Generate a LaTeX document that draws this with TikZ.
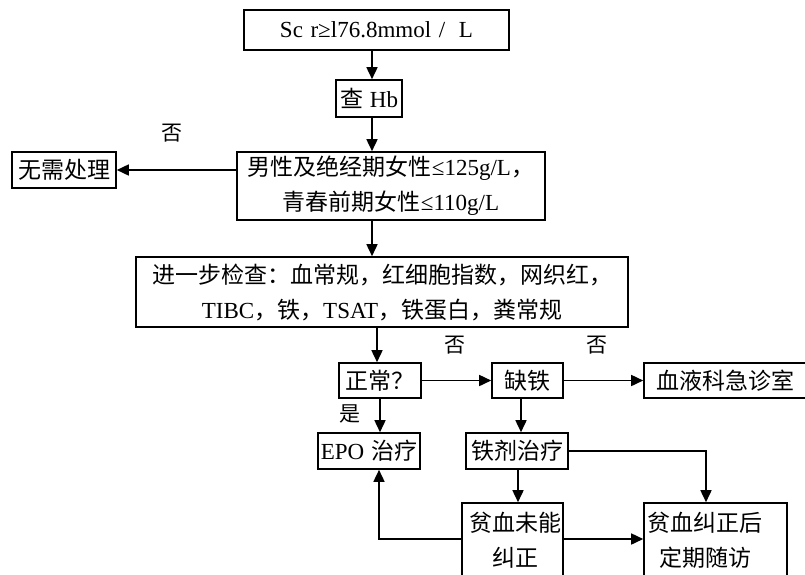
\documentclass[tikz,border=0pt]{standalone}
\usepackage{fontspec}
\setmainfont{Liberation Serif}
\newfontfamily\cjk{Noto Sans CJK SC}
\usetikzlibrary{arrows.meta}
\newcommand{\wsp}{\hspace{0.33em}}
\begin{document}
\begin{tikzpicture}[x=1pt,y=-1pt,
 box/.style={draw, line width=1.6pt, inner sep=0pt, align=center, font=\fontsize{23}{35}\selectfont},
 txt/.style={inner sep=0pt, align=center, font=\fontsize{23}{35}\selectfont},
 arr/.style={line width=1.6pt, -{Triangle[length=12pt,width=11pt]}},
 lbl/.style={inner sep=0pt, font=\fontsize{21}{24}\selectfont\cjk}]
\useasboundingbox (0,0) rectangle (805,574);
\clip (0,0) rectangle (805,574);
% boxes
\node[box, minimum width=265pt, minimum height=40pt] (top) at (376.5,30) {Sc\wsp r≥l76.8mmol\wsp /\hspace{0.6em}L};
\node[box, minimum width=66pt, minimum height=37pt] (hb) at (369,98.5) {{\cjk 查}\hspace{0.3em}Hb};
\node[box, minimum width=308pt, minimum height=68pt] (crit) at (391,186)
  {{\cjk 男性及绝经期女性}≤125g/L{\cjk ，}\\{\cjk 青春前期女性}≤110g/L};
\node[box, minimum width=104pt, minimum height=36pt] (none) at (64,170) {\cjk 无需处理};
\node[box, minimum width=492pt, minimum height=70pt] (exam) at (382,292)
  {{\cjk 进一步检查：血常规，红细胞指数，网织红，}\\TIBC{\cjk ，铁，}TSAT{\cjk ，铁蛋白，粪常规}};
\node[box, minimum width=82pt, minimum height=35pt] (norm) at (380,380.5) {\cjk 正常？};
\node[box, minimum width=71pt, minimum height=35pt] (def) at (527.5,380.5) {\cjk 缺铁};
\node[box, minimum width=176pt, minimum height=35pt] (hema) at (732,380.5) {};
\node[txt] (hematxt) at (725,380.5) {\cjk 血液科急诊室};
\node[box, minimum width=102pt, minimum height=36pt] (epo) at (369,451) {EPO\hspace{0.3em}{\cjk 治疗}};
\node[box, minimum width=102pt, minimum height=36pt] (iron) at (517,451) {\cjk 铁剂治疗};
\node[box, minimum width=101pt, minimum height=75pt] (fail) at (512.5,540.5) {};
\node[txt] (failtxt) at (515,540.5) {\cjk 贫血未能\\\cjk 纠正};
\node[box, minimum width=143pt, minimum height=75pt] (fu) at (715.5,540.5) {};
\node[txt] (futxt) at (705,540.5) {\cjk 贫血纠正后\\\cjk 定期随访};
% labels
\node[lbl] (no1) at (172,133) {否};
\node[lbl] (no2) at (455,345) {否};
\node[lbl] (no3) at (597,345) {否};
\node[lbl] (yes) at (350,414) {是};
% connectors
\draw[arr] (top.south -| 372,0) -- (hb.north -| 372,0);
\draw[arr] (hb.south -| 372,0) -- (crit.north -| 372,0);
\draw[arr] (crit.west |- none.east) -- (none.east);
\draw[arr] (crit.south -| 372,0) -- (exam.north -| 372,0);
\draw[arr] (exam.south -| 377,0) -- (norm.north -| 377,0);
\draw[arr] (norm.east) -- (def.west);
\draw[arr] (def.east) -- (hema.west);
\draw[arr] (norm.south) -- (norm.south |- epo.north);
\draw[arr] (def.south -| 521,0) -- (iron.north -| 521,0);
\draw[arr] (iron.south -| 518,0) -- (fail.north -| 518,0);
\draw[arr] (iron.east) -| (fu.north -| 706,0);
\draw[arr] (fail.west |- 0,539) -| (epo.south -| 379,0);
\draw[arr] (fail.east |- 0,539) -- (fu.west |- 0,539);
\end{tikzpicture}
\end{document}
